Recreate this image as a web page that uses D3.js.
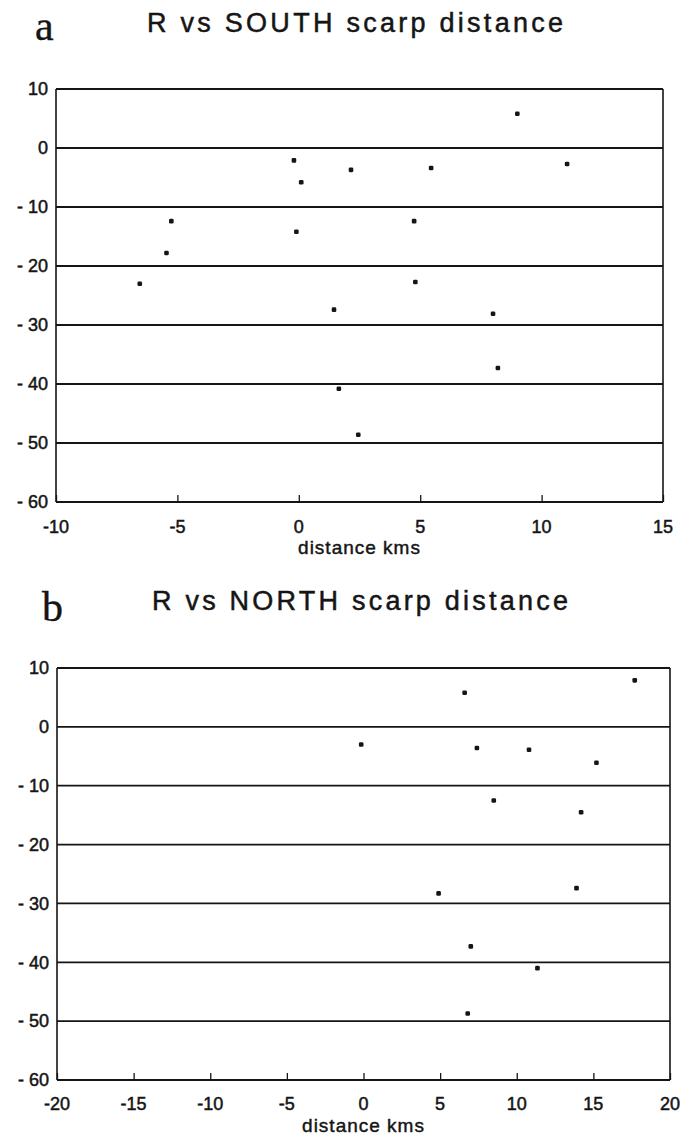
<!DOCTYPE html>
<html>
<head>
<meta charset="utf-8">
<script src="https://cdn.jsdelivr.net/npm/d3@7"></script>
<style>
  html, body { margin: 0; padding: 0; background: #fff; }
  svg { display: block; }
</style>
</head>
<body>
<svg id="chart" width="684" height="1136"></svg>
<script>
// ---- Data ----
const panelLetters = ["a", "b"];
const panelTitles = ["R vs SOUTH scarp distance", "R vs NORTH scarp distance"];
const xAxisLabel = "distance kms";

// Panel a: R vs SOUTH scarp distance
const southX = [9.0, -0.2, 0.1, 2.15, 5.45, 11.05, -5.25, -5.45, -6.55, -0.1, 4.75, 4.8, 1.45, 8.0, 8.2, 1.65, 2.45];
const southR = [5.8, -2.1, -5.8, -3.7, -3.4, -2.7, -12.4, -17.8, -23.0, -14.2, -12.4, -22.7, -27.4, -28.1, -37.3, -40.8, -48.6];

// Panel b: R vs NORTH scarp distance
const northX = [6.6, -0.15, 7.4, 10.8, 15.2, 8.5, 14.2, 17.7, 4.9, 13.9, 7.0, 11.35, 6.8];
const northR = [5.8, -3.0, -3.6, -3.9, -6.1, -12.5, -14.5, 7.9, -28.3, -27.4, -37.3, -41.0, -48.7];

// Tick values
const yTicks = [10, 0, -10, -20, -30, -40, -50, -60];
const southXTicks = [-10, -5, 0, 5, 10, 15];
const northXTicks = [-20, -15, -10, -5, 0, 5, 10, 15, 20];
const southXDomain = [-10, 15];
const northXDomain = [-20, 20];
const yDomain = [-60, 10];

// ---- Drawing ----
const svg = d3.select("#chart");
const ink = "#151515";
const sans = "'Liberation Sans', Arial, sans-serif";

const panels = [
  { letter: panelLetters[0], title: panelTitles[0], xs: southX, ys: southR, xTicks: southXTicks, xDomain: southXDomain,
    left: 56, right: 663, top: 89, bottom: 502,
    letterX: 35, letterY: 40, titleX: 147, titleY: 32, titleW: 416,
    tickLabelY: 533, axisLabelY: 554 },
  { letter: panelLetters[1], title: panelTitles[1], xs: northX, ys: northR, xTicks: northXTicks, xDomain: northXDomain,
    left: 57, right: 670, top: 668, bottom: 1080,
    letterX: 42, letterY: 621, titleX: 152, titleY: 610, titleW: 416,
    tickLabelY: 1110, axisLabelY: 1132 }
];

panels.forEach(p => {
  const x = d3.scaleLinear().domain(p.xDomain).range([p.left, p.right]);
  const y = d3.scaleLinear().domain(yDomain).range([p.bottom, p.top]);
  const g = svg.append("g");

  // Panel letter
  g.append("text")
    .attr("x", p.letterX).attr("y", p.letterY)
    .attr("font-family", "'Liberation Serif', 'DejaVu Serif', serif")
    .attr("font-size", 42)
    .attr("fill", ink)
    .attr("stroke", ink).attr("stroke-width", 0.4)
    .text(p.letter);

  // Title
  g.append("text")
    .attr("x", p.titleX).attr("y", p.titleY)
    .attr("font-family", sans)
    .attr("font-size", 27)
    .attr("fill", ink)
    .attr("stroke", ink).attr("stroke-width", 0.5)
    .attr("textLength", p.titleW)
    .attr("lengthAdjust", "spacing")
    .text(p.title);

  // Horizontal grid lines at each y tick
  g.append("g")
    .selectAll("line")
    .data(yTicks)
    .join("line")
    .attr("x1", p.left).attr("x2", p.right)
    .attr("y1", d => y(d)).attr("y2", d => y(d))
    .attr("stroke", ink)
    .attr("stroke-width", 1.8);

  // Frame (left, right)
  [p.left, p.right].forEach(xx => {
    g.append("line")
      .attr("x1", xx).attr("x2", xx)
      .attr("y1", y(10)).attr("y2", y(-60))
      .attr("stroke", ink).attr("stroke-width", 1.6);
  });

  // Y axis labels
  const yAxis = d3.axisLeft(y)
    .tickValues(yTicks)
    .tickSize(0)
    .tickPadding(8)
    .tickFormat(d => d < 0 ? "- " + Math.abs(d) : String(d));
  const ya = g.append("g").attr("transform", `translate(${p.left},0)`).call(yAxis);
  ya.select(".domain").remove();
  ya.selectAll("text")
    .attr("font-family", sans)
    .attr("font-size", 18)
    .attr("fill", ink)
    .attr("stroke", ink).attr("stroke-width", 0.5);

  // X axis: inward ticks
  const xAxis = d3.axisTop(x)
    .tickValues(p.xTicks)
    .tickSize(7)
    .tickFormat(() => "");
  const xa = g.append("g").attr("transform", `translate(0,${p.bottom})`).call(xAxis);
  xa.select(".domain").remove();
  xa.selectAll("line").attr("stroke", ink).attr("stroke-width", 1.3);

  // X tick labels
  g.append("g")
    .selectAll("text")
    .data(p.xTicks)
    .join("text")
    .attr("x", d => x(d))
    .attr("y", p.tickLabelY)
    .attr("text-anchor", "middle")
    .attr("font-family", sans)
    .attr("font-size", 18)
    .attr("fill", ink)
    .attr("stroke", ink).attr("stroke-width", 0.5)
    .text(d => String(d));

  // X axis title
  g.append("text")
    .attr("x", (p.left + p.right) / 2)
    .attr("y", p.axisLabelY)
    .attr("text-anchor", "middle")
    .attr("font-family", sans)
    .attr("font-size", 19)
    .attr("letter-spacing", 1)
    .attr("fill", ink)
    .attr("stroke", ink).attr("stroke-width", 0.45)
    .text(xAxisLabel);

  // Points
  const pts = p.xs.map((v, i) => [v, p.ys[i]]);
  g.append("g")
    .selectAll("rect")
    .data(pts)
    .join("rect")
    .attr("x", d => x(d[0]) - 2.3)
    .attr("y", d => y(d[1]) - 2.3)
    .attr("width", 4.6)
    .attr("height", 4.6)
    .attr("rx", 1.3)
    .attr("fill", ink);
});
</script>
</body>
</html>
